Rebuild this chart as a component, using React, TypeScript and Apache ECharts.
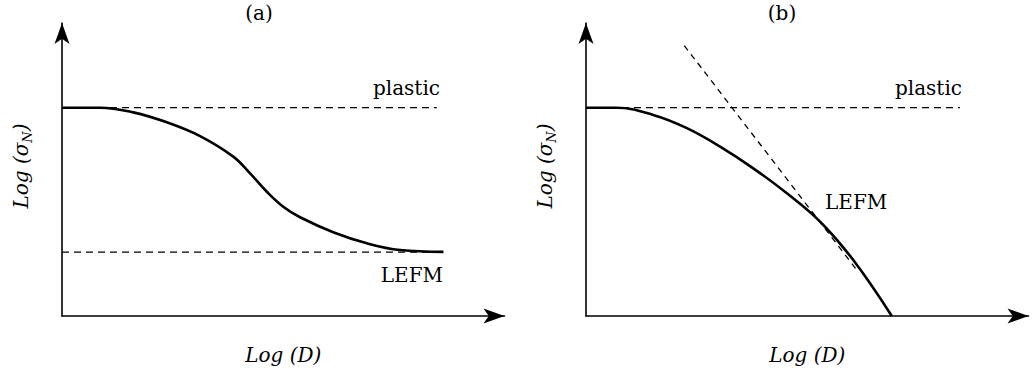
import React, { useEffect, useRef } from "react";
import * as echarts from "echarts";

// Axis units are arbitrary (schematic log-log size-effect plots), both axes run 0..10.
const panelTitles = ["(a)", "(b)"];
const xAxisTitle = "Log (D)";
const asymptoteLabels = ["plastic", "LEFM"];

// Panel (a): strength curve bridging the plastic and LEFM horizontal limits
const curveA: [number, number][] = [
  [0, 7.11], [0.86, 7.11], [1.61, 6.95], [2.37, 6.61], [3.12, 6.14], [3.87, 5.44],
  [4.25, 4.87], [4.63, 4.24], [5.0, 3.73], [5.38, 3.37], [6.13, 2.86], [6.89, 2.48],
  [7.64, 2.25], [8.62, 2.19],
];
const plasticA: [number, number][] = [[0, 7.11], [8.47, 7.11]];
const lefmA: [number, number][] = [[0, 2.18], [8.47, 2.18]];

// Panel (b): curve bending down onto the inclined LEFM asymptote
const curveB: [number, number][] = [
  [0, 7.11], [0.69, 7.11], [1.52, 6.86], [2.28, 6.41], [3.03, 5.78], [3.78, 5.04],
  [4.54, 4.19], [5.29, 3.22], [6.04, 1.91], [6.91, 0],
];
const plasticB: [number, number][] = [[0, 7.11], [8.45, 7.11]];
const lefmB: [number, number][] = [[2.22, 9.23], [6.12, 1.57]];

const FONT = "DejaVu Serif";
const FS = 20;

function axis(gridIndex: number, isX: boolean) {
  const base: any = {
    type: "value",
    gridIndex,
    min: 0,
    max: 10,
    axisLine: {
      show: true,
      symbol: ["none", "arrow"],
      symbolSize: [11.25, 21],
      lineStyle: { color: "#000", width: 1.6 },
    },
    axisTick: { show: false },
    axisLabel: { show: false },
    splitLine: { show: false },
    nameLocation: "middle",
    nameTextStyle: {
      fontFamily: FONT,
      fontSize: FS,
      fontStyle: "italic",
      color: "#000",
      lineHeight: 26,
    },
  };
  if (isX) {
    base.name = xAxisTitle;
    base.nameGap = 26;
  } else {
    base.name = "{m|Log (σ}{s|N}{m|)}";
    base.nameGap = 28;
    base.nameTextStyle = {
      ...base.nameTextStyle,
      padding: [0, 0, 0, 7],
      rich: {
        m: { fontFamily: FONT, fontSize: FS, fontStyle: "italic", color: "#000", lineHeight: 26 },
        s: {
          fontFamily: FONT,
          fontSize: 13,
          fontStyle: "italic",
          color: "#000",
          lineHeight: 26,
          verticalAlign: "bottom",
        },
      },
    };
  }
  return base;
}

function dashed(data: [number, number][], idx: number, dash: number[], z = 2) {
  return {
    type: "line",
    xAxisIndex: idx,
    yAxisIndex: idx,
    data,
    symbol: "none",
    silent: true,
    z,
    lineStyle: { color: "#000", width: 1.3, type: dash },
  };
}

function solid(data: [number, number][], idx: number) {
  return {
    type: "line",
    xAxisIndex: idx,
    yAxisIndex: idx,
    data,
    symbol: "none",
    silent: true,
    smooth: 0.4,
    z: 3,
    lineStyle: { color: "#000", width: 2.6 },
  };
}

function label(text: string, x: number, y: number, align: string) {
  return {
    type: "text",
    x,
    y,
    silent: true,
    style: {
      text,
      fontFamily: FONT,
      fontSize: FS,
      fill: "#000",
      align,
      verticalAlign: "middle",
    },
  };
}

export default function App() {
  const ref = useRef<HTMLDivElement>(null);

  useEffect(() => {
    if (!ref.current) return;
    const chart = echarts.init(ref.current, undefined, { renderer: "svg" });
    chart.setOption({
      animation: false,
      backgroundColor: "#fff",
      textStyle: { fontFamily: FONT },
      grid: [
        { left: 62, top: 23, width: 442.5, height: 293 },
        { left: 586, top: 23, width: 442.5, height: 293 },
      ],
      xAxis: [axis(0, true), axis(1, true)],
      yAxis: [axis(0, false), axis(1, false)],
      series: [
        dashed(plasticA, 0, [7, 5]),
        dashed(lefmA, 0, [7, 5]),
        solid(curveA, 0),
        dashed(plasticB, 1, [7, 5]),
        solid(curveB, 1),
        dashed(lefmB, 1, [6, 5], 4),
      ],
      graphic: [
        label(panelTitles[0], 259, 13, "center"),
        label(panelTitles[1], 782, 13, "center"),
        label(asymptoteLabels[0], 440, 88, "right"),
        label(asymptoteLabels[1], 443, 275, "right"),
        label(asymptoteLabels[0], 962, 88, "right"),
        label(asymptoteLabels[1], 825, 201.5, "left"),
      ],
    });
    return () => chart.dispose();
  }, []);

  return (
    <div
      ref={ref}
      style={{ position: "fixed", left: 0, top: 0, width: 1033, height: 377, background: "#fff" }}
    />
  );
}
